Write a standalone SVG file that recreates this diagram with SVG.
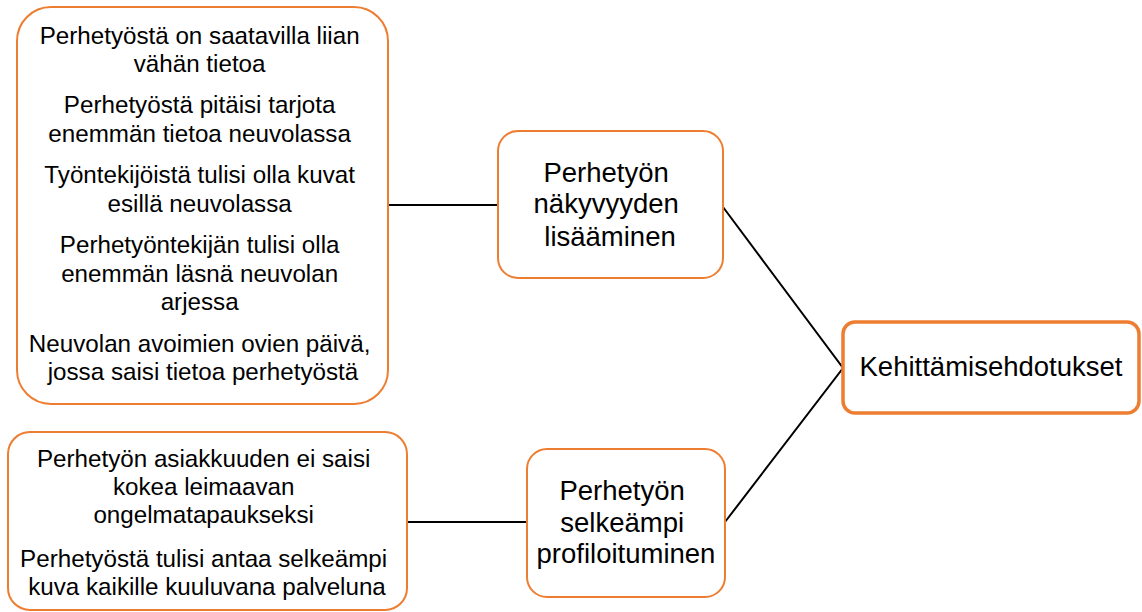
<svg xmlns="http://www.w3.org/2000/svg" width="1142" height="612" viewBox="0 0 1142 612">
  <style>
    .box { fill: #ffffff; stroke: #ED7D31; stroke-width: 2; }
    .box-main { fill: #ffffff; stroke: #ED7D31; stroke-width: 3.5; }
    .txt { font-family: "Liberation Sans", Arial, sans-serif; fill: #000000; text-anchor: middle; }
    .small { font-size: 24.2px; }
    .big { font-size: 27.5px; }
    .conn { stroke: #000000; stroke-width: 2; fill: none; }
  </style>

  <rect width="1142" height="612" fill="#ffffff"/>

  <!-- connectors -->
  <g id="connectors">
    <line class="conn" x1="388" y1="205" x2="498" y2="205"/>
    <line class="conn" x1="408" y1="522" x2="527" y2="522"/>
    <polyline class="conn" points="723,207 843,368 725,522"/>
  </g>

  <!-- left: visibility suggestions -->
  <g id="node-visibility-items">
    <rect class="box" x="17" y="7" width="371" height="397" rx="34" ry="34"/>
    <text class="txt small">
      <tspan x="203" y="44">Perhetyöstä on saatavilla liian</tspan>
      <tspan x="203" y="72">vähän tietoa</tspan>
      <tspan x="203" y="113">Perhetyöstä pitäisi tarjota</tspan>
      <tspan x="203" y="142">enemmän tietoa neuvolassa</tspan>
      <tspan x="203" y="183">Työntekijöistä tulisi olla kuvat</tspan>
      <tspan x="203" y="212">esillä neuvolassa</tspan>
      <tspan x="203" y="253">Perhetyöntekijän tulisi olla</tspan>
      <tspan x="203" y="282">enemmän läsnä neuvolan</tspan>
      <tspan x="203" y="310">arjessa</tspan>
      <tspan x="203" y="352">Neuvolan avoimien ovien päivä,</tspan>
      <tspan x="203" y="380">jossa saisi tietoa perhetyöstä</tspan>
    </text>
  </g>

  <!-- left: profiling suggestions -->
  <g id="node-profile-items">
    <rect class="box" x="8" y="432" width="399" height="178" rx="22" ry="22"/>
    <text class="txt small">
      <tspan x="207" y="467">Perhetyön asiakkuuden ei saisi</tspan>
      <tspan x="207" y="495">kokea leimaavan</tspan>
      <tspan x="207" y="523">ongelmatapaukseksi</tspan>
      <tspan x="207" y="567">Perhetyöstä tulisi antaa selkeämpi</tspan>
      <tspan x="207" y="595">kuva kaikille kuuluvana palveluna</tspan>
    </text>
  </g>

  <!-- middle: visibility -->
  <g id="node-visibility">
    <rect class="box" x="498" y="131" width="225" height="147" rx="20" ry="20"/>
    <text class="txt big">
      <tspan x="610" y="182">Perhetyön</tspan>
      <tspan x="610" y="213">näkyvyyden</tspan>
      <tspan x="610" y="246">lisääminen</tspan>
    </text>
  </g>

  <!-- middle: profiling -->
  <g id="node-profile">
    <rect class="box" x="527" y="449" width="198" height="148" rx="20" ry="20"/>
    <text class="txt big">
      <tspan x="626" y="500">Perhetyön</tspan>
      <tspan x="626" y="532">selkeämpi</tspan>
      <tspan x="626" y="563">profiloituminen</tspan>
    </text>
  </g>

  <!-- right: root -->
  <g id="node-root">
    <rect class="box-main" x="843" y="322" width="296" height="91" rx="12" ry="12"/>
    <text class="txt big" x="991" y="376">Kehittämisehdotukset</text>
  </g>
</svg>
